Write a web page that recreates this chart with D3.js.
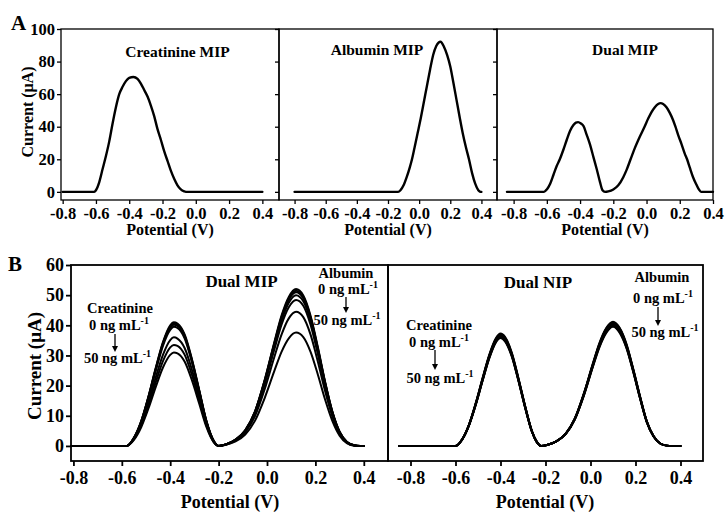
<!DOCTYPE html>
<html><head><meta charset="utf-8">
<script src="https://cdn.jsdelivr.net/npm/d3@7"></script>
<style>
body{margin:0;background:#fff}
svg{display:block}
text{font-family:"Liberation Serif","Times New Roman",serif;font-weight:bold;fill:#000}
</style>
</head><body><svg id="c" width="726" height="516"></svg>
<script>
// ---------------- DATA ----------------
const xTicks = [-0.8, -0.6, -0.4, -0.2, 0.0, 0.2, 0.4];
const yTicksA = [0, 20, 40, 60, 80, 100];
const yTicksB = [0, 10, 20, 30, 40, 50, 60];

// Panel A1 : Creatinine MIP
const creatMipX = [-0.8, -0.61, -0.6, -0.58, -0.56, -0.54, -0.52, -0.5, -0.48, -0.46, -0.44, -0.42, -0.4, -0.375, -0.35, -0.33, -0.31, -0.29, -0.27, -0.25, -0.23, -0.21, -0.19, -0.17, -0.15, -0.13, -0.11, -0.09, -0.07, -0.06, 0.4];
const creatMipY = [0, 0, 1, 6, 14, 22, 31, 42, 52, 60, 64.5, 68, 70, 70.5, 69.3, 66.5, 62.5, 58.5, 53, 46.5, 38.5, 32, 25, 19, 13, 8, 4, 1.5, 0.3, 0, 0];

// Panel A2 : Albumin MIP
const albMipX = [-0.8, -0.135, -0.12, -0.1, -0.08, -0.06, -0.046, -0.03, -0.01, 0.01, 0.03, 0.05, 0.07, 0.09, 0.11, 0.137, 0.16, 0.18, 0.2, 0.22, 0.24, 0.26, 0.28, 0.3, 0.32, 0.34, 0.36, 0.38, 0.39, 0.4];
const albMipY = [0, 0, 1, 4, 9, 15, 20, 27, 36, 45, 55, 65, 75, 84, 89.5, 92.2, 89, 84, 77, 67, 56.5, 46, 36, 27.5, 20, 11.5, 5, 1, 0.2, 0];

// Panel A3 : Dual MIP
const dualMipX = [-0.84, -0.617, -0.6, -0.58, -0.56, -0.54, -0.522, -0.5, -0.48, -0.46, -0.44, -0.425, -0.412, -0.395, -0.38, -0.36, -0.34, -0.32, -0.3, -0.28, -0.265, -0.25, -0.23, -0.2, -0.17, -0.14, -0.12, -0.096, -0.07, -0.04, -0.012, 0.01, 0.03, 0.05, 0.07, 0.084, 0.1, 0.12, 0.14, 0.16, 0.174, 0.19, 0.21, 0.23, 0.244, 0.26, 0.28, 0.3, 0.315, 0.328, 0.4];
const dualMipY = [0, 0, 1.5, 5, 10.5, 16, 20, 26, 32, 37.5, 41, 42.5, 42.8, 42, 40.5, 35, 29, 21.5, 14, 6, 1, 0, 0.3, 1.5, 4, 9, 13.5, 20, 27, 34, 40, 45, 49, 52, 54, 54.5, 54, 52, 48.5, 44, 40, 35, 29.5, 23.5, 20, 15, 9, 4.5, 1.5, 0, 0];

// Panel B left : Dual MIP, creatinine + albumin 0 -> 50 ng/mL
const bMipX = [-0.81, -0.58, -0.55, -0.52, -0.49, -0.46, -0.43, -0.40, -0.385, -0.37, -0.34, -0.31, -0.28, -0.25, -0.22, -0.2, -0.17, -0.13, -0.09, -0.05, -0.01, 0.03, 0.06, 0.09, 0.12, 0.15, 0.18, 0.21, 0.24, 0.27, 0.3, 0.33, 0.36, 0.385, 0.4];
const bMip0  = [0, 0, 2.7, 8.2, 16.4, 25.8, 34.4, 40.0, 41.0, 40.6, 36.9, 28.7, 18.5, 8.2, 1.6, 0, 0.5, 2.1, 5.2, 11.4, 21.8, 34.3, 43.2, 49.4, 52.0, 49.9, 43.2, 32.8, 21.3, 11.4, 4.7, 1.3, 0.2, 0, 0];
const bMip1  = [0, 0, 2.6, 8.1, 16.2, 25.6, 34.1, 39.6, 40.6, 40.2, 36.5, 28.4, 18.3, 8.1, 1.6, 0, 0.5, 2.1, 5.2, 11.3, 21.6, 34.0, 42.7, 48.9, 51.5, 49.4, 42.7, 32.4, 21.1, 11.3, 4.6, 1.3, 0.2, 0, 0];
const bMip2  = [0, 0, 2.6, 8.0, 16.1, 25.3, 33.8, 39.2, 40.2, 39.8, 36.2, 28.1, 18.1, 8.0, 1.6, 0, 0.5, 2.0, 5.1, 11.2, 21.4, 33.7, 42.3, 48.5, 51.0, 49.0, 42.3, 32.1, 20.9, 11.2, 4.6, 1.3, 0.2, 0, 0];
const bMip3  = [0, 0, 2.6, 7.9, 15.8, 24.9, 33.2, 38.5, 39.5, 39.1, 35.6, 27.7, 17.8, 7.9, 1.6, 0, 0.5, 2.0, 5.0, 11.0, 21.0, 33.0, 41.5, 47.5, 50.0, 48.0, 41.5, 31.5, 20.5, 11.0, 4.5, 1.3, 0.2, 0, 0];
const bMip4  = [0, 0, 2.3, 7.2, 14.4, 22.7, 30.2, 35.1, 36.0, 35.6, 32.4, 25.2, 16.2, 7.2, 1.4, 0, 0.5, 1.9, 4.8, 10.6, 20.3, 31.9, 40.2, 46.0, 48.4, 46.5, 40.2, 30.5, 19.8, 10.6, 4.4, 1.2, 0.1, 0, 0];
const bMip5  = [0, 0, 2.2, 6.7, 13.4, 21.1, 28.1, 32.7, 33.5, 33.2, 30.2, 23.5, 15.1, 6.7, 1.3, 0, 0.4, 1.8, 4.5, 9.8, 18.7, 29.4, 36.9, 42.3, 44.5, 42.7, 36.9, 28.0, 18.2, 9.8, 4.0, 1.1, 0.1, 0, 0];
const bMip6  = [0, 0, 2.0, 6.2, 12.4, 19.5, 26.0, 30.2, 31.0, 30.7, 27.9, 21.7, 14.0, 6.2, 1.2, 0, 0.4, 1.5, 3.8, 8.3, 15.8, 24.8, 31.2, 35.7, 37.6, 36.1, 31.2, 23.7, 15.4, 8.3, 3.4, 0.9, 0.1, 0, 0];

// Panel B right : Dual NIP
const bNipX = [-0.85, -0.6, -0.57, -0.54, -0.51, -0.48, -0.45, -0.42, -0.4, -0.38, -0.35, -0.32, -0.29, -0.26, -0.24, -0.22, -0.19, -0.15, -0.11, -0.07, -0.03, 0.01, 0.04, 0.07, 0.1, 0.13, 0.16, 0.19, 0.22, 0.25, 0.28, 0.31, 0.34, 0.36, 0.4];
const bNip0 = [0, 0, 2.2, 7.1, 14.2, 22.4, 30.2, 35.8, 37.3, 36.2, 31.0, 22.4, 13.1, 4.8, 1.5, 0, 0.4, 1.6, 4.1, 9.1, 17.3, 27.2, 34.2, 39.1, 41.2, 39.1, 33.8, 25.5, 16.5, 8.2, 3.3, 0.8, 0.1, 0, 0];
const bNip1 = [0, 0, 2.2, 7.0, 14.1, 22.2, 30.0, 35.5, 37.0, 35.9, 30.7, 22.2, 13.0, 4.8, 1.5, 0, 0.4, 1.6, 4.1, 9.0, 17.2, 27.0, 33.9, 38.9, 40.9, 38.9, 33.5, 25.4, 16.4, 8.2, 3.3, 0.8, 0.1, 0, 0];
const bNip2 = [0, 0, 2.2, 7.0, 14.0, 22.1, 29.8, 35.3, 36.8, 35.7, 30.5, 22.1, 12.9, 4.8, 1.5, 0, 0.4, 1.6, 4.1, 8.9, 17.1, 26.8, 33.7, 38.6, 40.6, 38.6, 33.3, 25.2, 16.2, 8.1, 3.2, 0.8, 0.1, 0, 0];
const bNip3 = [0, 0, 2.2, 6.9, 13.9, 21.9, 29.6, 35.0, 36.5, 35.4, 30.3, 21.9, 12.8, 4.7, 1.5, 0, 0.4, 1.6, 4.0, 8.9, 17.0, 26.7, 33.5, 38.4, 40.4, 38.4, 33.1, 25.0, 16.2, 8.1, 3.2, 0.8, 0.1, 0, 0];
const bNip4 = [0, 0, 2.2, 6.9, 13.8, 21.8, 29.4, 34.8, 36.3, 35.2, 30.1, 21.8, 12.7, 4.7, 1.5, 0, 0.4, 1.6, 4.0, 8.8, 16.8, 26.5, 33.3, 38.1, 40.1, 38.1, 32.9, 24.9, 16.0, 8.0, 3.2, 0.8, 0.1, 0, 0];
const bNip5 = [0, 0, 2.2, 6.8, 13.7, 21.6, 29.2, 34.6, 36.0, 34.9, 29.9, 21.6, 12.6, 4.7, 1.4, 0, 0.4, 1.6, 4.0, 8.8, 16.7, 26.3, 33.0, 37.8, 39.8, 37.8, 32.6, 24.7, 15.9, 8.0, 3.2, 0.8, 0.1, 0, 0];
const bNip6 = [0, 0, 2.1, 6.8, 13.6, 21.5, 29.0, 34.4, 35.8, 34.7, 29.7, 21.5, 12.5, 4.7, 1.4, 0, 0.4, 1.6, 4.0, 8.7, 16.6, 26.1, 32.8, 37.5, 39.5, 37.5, 32.4, 24.5, 15.8, 7.9, 3.2, 0.8, 0.1, 0, 0];

// ---------------- LAYOUT ----------------
const FONT = '"Liberation Serif","Times New Roman",serif';
const svg = d3.select('#c');
const fmt = d => d.toFixed(1);
const zip = (xs, ys) => xs.map((x, i) => [x, ys[i]]);

function panel(cfg) {
  const x = d3.scaleLinear().domain(cfg.xDomain).range([cfg.left, cfg.right]);
  const y = d3.scaleLinear().domain(cfg.yDomain).range([cfg.bottom, cfg.top]);
  const g = svg.append('g');

  const xa = g.append('g').attr('transform', `translate(0,${cfg.bottom})`)
    .call(d3.axisBottom(x).tickValues(xTicks).tickSize(cfg.tick).tickSizeOuter(0).tickPadding(cfg.pad).tickFormat(fmt));
  xa.attr('font-family', FONT).attr('font-size', cfg.tickFont);
  xa.select('.domain').remove();
  xa.selectAll('line').attr('stroke', '#000').attr('stroke-width', cfg.sw);
  xa.selectAll('text').style('font-size', cfg.tickFont + 'px').style('font-family', FONT).attr('fill', '#000');

  const ya = g.append('g').attr('transform', `translate(${cfg.left},0)`)
    .call(d3.axisLeft(y).tickValues(cfg.yTicks).tickSize(cfg.showYTicks ? cfg.tick : 0).tickSizeOuter(0).tickPadding(2)
      .tickFormat(cfg.yLabels ? d3.format('d') : ''));
  ya.attr('font-family', FONT).attr('font-size', cfg.tickFont);
  ya.select('.domain').remove();
  ya.selectAll('line').attr('stroke', '#000').attr('stroke-width', cfg.sw);
  ya.selectAll('text').style('font-size', cfg.tickFont + 'px').style('font-family', FONT).attr('fill', '#000');

  g.append('rect').attr('x', cfg.left).attr('y', cfg.top)
    .attr('width', cfg.right - cfg.left).attr('height', cfg.bottom - cfg.top)
    .attr('fill', 'none').attr('stroke', '#000').attr('stroke-width', cfg.sw);

  const line = d3.line().x(d => x(d[0])).y(d => y(d[1])).curve(d3.curveMonotoneX);
  cfg.series.forEach(s => {
    g.append('path').attr('d', line(s)).attr('fill', 'none').attr('stroke', '#000')
      .attr('stroke-width', cfg.lw).attr('stroke-linejoin', 'round').attr('stroke-linecap', 'round');
  });
  return { x, y };
}

const aBase = { top: 29, bottom: 200, yDomain: [-5, 100], yTicks: yTicksA, tick: 4, pad: 3, sw: 1.3, lw: 2.4, tickFont: 16.5 };
panel(Object.assign({}, aBase, { left: 61, right: 279, xDomain: [-0.81, 0.5], yLabels: true, showYTicks: true,
  series: [zip(creatMipX, creatMipY)] }));
panel(Object.assign({}, aBase, { left: 279, right: 497, xDomain: [-0.9, 0.5], yLabels: false, showYTicks: true,
  series: [zip(albMipX, albMipY)] }));
panel(Object.assign({}, aBase, { left: 497, right: 713, xDomain: [-0.9, 0.4], yLabels: false, showYTicks: true,
  series: [zip(dualMipX, dualMipY)] }));

const bBase = { top: 265, bottom: 461, yDomain: [-5, 60], yTicks: yTicksB, tick: 5, pad: 5, sw: 1.8, lw: 2, tickFont: 18 };
panel(Object.assign({}, bBase, { left: 71, right: 388, xDomain: [-0.81, 0.5], yLabels: true, showYTicks: true,
  series: [bMip0, bMip1, bMip2, bMip3, bMip4, bMip5, bMip6].map(c => zip(bMipX, c)) }));
panel(Object.assign({}, bBase, { left: 388, right: 703, xDomain: [-0.9, 0.5], yLabels: false, showYTicks: false,
  series: [bNip0, bNip1, bNip2, bNip3, bNip4, bNip5, bNip6].map(c => zip(bNipX, c)) }));

// ---------------- TEXT ----------------
function txt(x, y, s, size, anchor) {
  return svg.append('text').attr('x', x).attr('y', y).attr('text-anchor', anchor || 'middle')
    .style('font-size', size + 'px').text(s);
}
txt(11, 30, 'A', 21, 'start');
txt(8, 271, 'B', 21, 'start');

svg.append('text').attr('transform', 'translate(33,112) rotate(-90)').attr('text-anchor', 'middle')
  .style('font-size', '16px').text('Current (μA)');
svg.append('text').attr('transform', 'translate(41,366) rotate(-90)').attr('text-anchor', 'middle')
  .style('font-size', '19px').text('Current (μA)');

txt(170, 235, 'Potential (V)', 16);
txt(388, 235, 'Potential (V)', 16);
txt(605, 235, 'Potential (V)', 16);
txt(230, 508, 'Potential (V)', 18);
txt(545, 508, 'Potential (V)', 18);

txt(177.5, 57, 'Creatinine MIP', 15.5);
txt(377, 55, 'Albumin MIP', 15.5);
txt(625, 55, 'Dual MIP', 15.5);
txt(241.5, 287, 'Dual MIP', 17);
txt(538, 288, 'Dual NIP', 17);

function conc(x, y, n) {
  const t = svg.append('text').attr('x', x).attr('y', y).attr('text-anchor', 'middle').style('font-size', '14.5px');
  t.append('tspan').text(n + ' ng mL');
  t.append('tspan').attr('dy', -6).style('font-size', '10px').text('-1');
}
function arrow(x, y1, y2) {
  svg.append('line').attr('x1', x).attr('x2', x).attr('y1', y1).attr('y2', y2 - 4).attr('stroke', '#000').attr('stroke-width', 1.3);
  svg.append('path').attr('d', `M${x - 3},${y2 - 6} L${x + 3},${y2 - 6} L${x},${y2} Z`).attr('fill', '#000');
}
// B left annotations
txt(120, 313, 'Creatinine', 14.5); conc(119, 330, '0'); arrow(115, 334, 352); conc(117.5, 363, '50');
txt(346, 278, 'Albumin', 14.5); conc(348, 294, '0'); arrow(346, 297, 313); conc(347, 325, '50');
// B right annotations
txt(439, 330, 'Creatinine', 14.5); conc(439, 347, '0'); arrow(435, 350, 370); conc(440, 383, '50');
txt(662, 282, 'Albumin', 14.5); conc(663, 303, '0'); arrow(658, 307, 326); conc(665, 337, '50');
</script>
</body></html>
